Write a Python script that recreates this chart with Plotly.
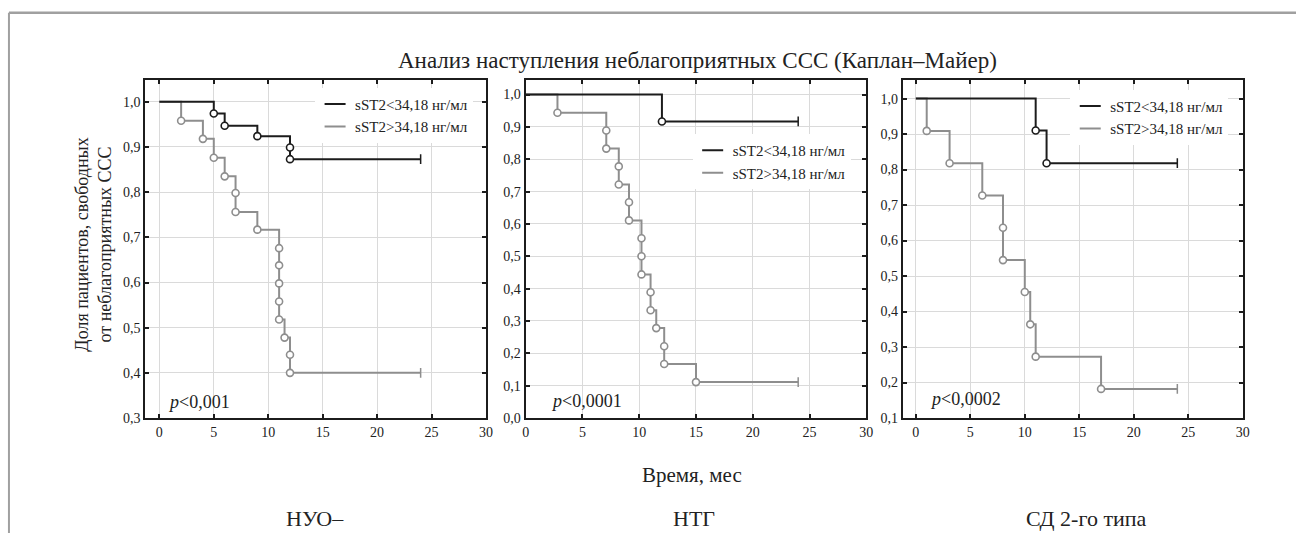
import plotly.graph_objects as go

W, H = 1303, 541

# ---------------- data ----------------
# Panel 1: НУО–
p1_low_t = [5, 6, 9, 12, 12]
p1_low_s = [0.974, 0.947, 0.924, 0.899, 0.873]
p1_high_t = [2, 4, 5, 6, 7, 7, 9, 11, 11, 11, 11, 11, 11.5, 12, 12]
p1_high_s = [0.958, 0.918, 0.876, 0.835, 0.798, 0.756, 0.717, 0.676, 0.638, 0.598, 0.558, 0.518, 0.478, 0.440, 0.400]

# Panel 2: НТГ
p2_low_t = [12]
p2_low_s = [0.917]
p2_high_t = [2.8, 7.1, 7.1, 8.2, 8.2, 9.1, 9.1, 10.2, 10.2, 10.2, 11, 11, 11.5, 12.2, 12.2, 15]
p2_high_s = [0.944, 0.889, 0.833, 0.778, 0.722, 0.667, 0.611, 0.556, 0.500, 0.444, 0.389, 0.333, 0.278, 0.222, 0.167, 0.111]

# Panel 3: СД 2-го типа
p3_low_t = [11, 12]
p3_low_s = [0.910, 0.818]
p3_high_t = [1, 3.1, 6.1, 8, 8, 10, 10.5, 11, 17]
p3_high_s = [0.909, 0.818, 0.727, 0.636, 0.545, 0.455, 0.364, 0.273, 0.182]

censor_time = 24
panel_names = ["НУО–", "НТГ", "СД 2-го типа"]
p_values = ["<i>p</i>&lt;0,001", "<i>p</i>&lt;0,0001", "<i>p</i>&lt;0,0002"]
legend_low = "sST2&lt;34,18 нг/мл"
legend_high = "sST2&gt;34,18 нг/мл"
title_text = "Анализ наступления неблагоприятных ССС (Каплан–Майер)"
xlabel = "Время, мес"
ylabel = "Доля пациентов, свободных<br>от неблагоприятных ССС"

# ---------------- styling ----------------
FONT = "Liberation Serif"
BLACK = "#1c1c1c"
GRAY = "#8e8e8e"

panels = [
    dict(low=(p1_low_t, p1_low_s), high=(p1_high_t, p1_high_s),
         xr=[-1.3, 30], yr=[0.3, 1.0487], ytick0=0.3,
         xpx=(143.3, 486.7)),
    dict(low=(p2_low_t, p2_low_s), high=(p2_high_t, p2_high_s),
         xr=[0, 30], yr=[0.0, 1.0457], ytick0=0.0,
         xpx=(526.7, 870.0)),
    dict(low=(p3_low_t, p3_low_s), high=(p3_high_t, p3_high_s),
         xr=[-1.2, 30], yr=[0.1, 1.053], ytick0=0.1,
         xpx=(906.7, 1249.3)),
]
ytop_px, ybot_px = 81.0, 424.3

fig = go.Figure()


def add_curve(i, t, s, color, name, legend_id):
    xa = "x" if i == 0 else f"x{i+1}"
    ya = "y" if i == 0 else f"y{i+1}"
    xs = [0] + list(t) + [censor_time]
    ys = [1.0] + list(s) + [s[-1]]
    fig.add_trace(go.Scatter(x=xs, y=ys, mode="lines", line=dict(color=color, width=2, shape="hv"),
                             xaxis=xa, yaxis=ya, showlegend=False, hoverinfo="skip"))
    fig.add_trace(go.Scatter(x=t, y=s, mode="markers",
                             marker=dict(symbol="circle", size=7, color="white", line=dict(width=1.6, color=color)),
                             xaxis=xa, yaxis=ya, showlegend=False))
    fig.add_trace(go.Scatter(x=[censor_time], y=[s[-1]], mode="markers",
                             marker=dict(symbol="line-ns", size=7, line=dict(width=1.5, color=color)),
                             xaxis=xa, yaxis=ya, showlegend=False))
    # legend-only entry
    fig.add_trace(go.Scatter(x=[None], y=[None], mode="markers", name=name,
                             marker=dict(symbol="line-ew", size=15, line=dict(width=2, color=color)),
                             xaxis=xa, yaxis=ya, showlegend=True, legend=legend_id))


legend_ids = ["legend", "legend2", "legend3"]
for i, p in enumerate(panels):
    add_curve(i, *p["high"], GRAY, legend_high, legend_ids[i])
    add_curve(i, *p["low"], BLACK, legend_low, legend_ids[i])

layout = dict(
    width=W, height=H,
    margin=dict(l=0, r=0, t=0, b=0),
    paper_bgcolor="white", plot_bgcolor="white",
    separators=", ",
    font=dict(family=FONT, color="#222", size=14),
    showlegend=True,
)

axis_common = dict(showline=True, linecolor=BLACK, linewidth=2, mirror="ticks",
                   ticks="inside", ticklen=4, tickcolor=BLACK, tickwidth=1.5,
                   showgrid=True, gridcolor="#dadada", gridwidth=1, zeroline=False,
                   tickfont=dict(family=FONT, size=14, color="#222"))

ydom = [1 - ybot_px / H, 1 - ytop_px / H]
for i, p in enumerate(panels):
    sfx = "" if i == 0 else str(i + 1)
    layout[f"xaxis{sfx}"] = dict(axis_common, range=p["xr"], dtick=5, tick0=0,
                                 domain=[p["xpx"][0] / W, p["xpx"][1] / W],
                                 anchor=f"y{sfx}")
    layout[f"yaxis{sfx}"] = dict(axis_common, range=p["yr"], dtick=0.1, tick0=p["ytick0"],
                                 tickformat=".1f", domain=ydom, anchor=f"x{sfx}")

leg_pos = [(314.5, 89), (695, 136), (1075.5, 91)]
for i, lid in enumerate(legend_ids):
    layout[lid] = dict(x=leg_pos[i][0] / W, y=1 - leg_pos[i][1] / H, xanchor="left", yanchor="top",
                       bgcolor="white", borderwidth=0, traceorder="reversed",
                       font=dict(family=FONT, size=15, color="#222"), tracegroupgap=0)

fig.update_layout(**layout)


def ann(text, x, y, size, xanchor="center", angle=0):
    return dict(text=text, x=x / W, y=1 - y / H, xref="paper", yref="paper",
                xanchor=xanchor, yanchor="middle", textangle=angle,
                showarrow=False, font=dict(family=FONT, size=size, color="#222"))


annotations = [ann(title_text, 700, 61, 23), ann(xlabel, 694, 482, 21)]
for name, cx in zip(panel_names, [314, 696, 1092]):
    annotations.append(ann(name, cx, 526, 22))
annotations.append(ann(ylabel, 91, 248, 18, angle=-90))
for ptxt, (px, py) in zip(p_values, [(164, 408), (550, 407), (932, 405)]):
    annotations.append(ann(ptxt, px, py, 18, xanchor="left"))
fig.update_layout(annotations=annotations)

# outer frame (top and left only)
fig.add_shape(type="line", xref="paper", yref="paper", x0=6 / W, x1=1, y0=1 - 13 / H, y1=1 - 13 / H,
              line=dict(color="#a0a0a0", width=2.5))
fig.add_shape(type="line", xref="paper", yref="paper", x0=6 / W, x1=6 / W, y0=0, y1=1 - 13 / H,
              line=dict(color="#a0a0a0", width=2))

fig.write_html("out.html", config={"displayModeBar": False},
               post_script="document.body.style.margin='0px';document.body.style.overflow='hidden';")
